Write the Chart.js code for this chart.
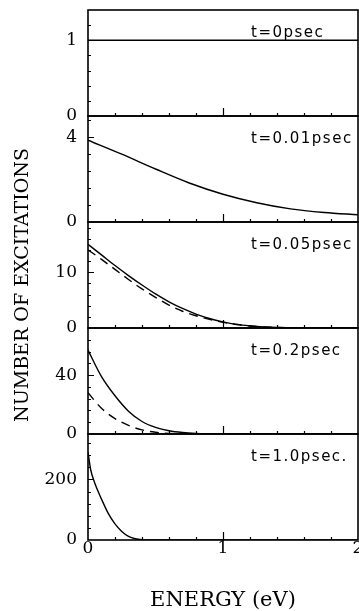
<!DOCTYPE html>
<html>
<head>
<meta charset="utf-8">
<script src="https://cdn.jsdelivr.net/npm/chart.js@4.4.1/dist/chart.umd.min.js"></script>
<style>
  html, body { margin: 0; padding: 0; background: #fff; }
  canvas { display: block; }
</style>
</head>
<body>
<canvas id="excitationsChart" width="359" height="611"></canvas>
<script>
// energy grids (eV) and number of excitations
const energyT0 = [0, 2];
const excT0 = [1, 1];

const energyT001 = [0, 0.25, 0.5, 0.75, 1.0, 1.25, 1.5, 1.75, 2.0];
const excT001 = [3.86, 3.2, 2.5, 1.84, 1.31, 0.91, 0.62, 0.45, 0.34];

const energyT005 = [0, 0.1, 0.2, 0.3, 0.4, 0.5, 0.6, 0.7, 0.8, 0.9, 1.0, 1.1, 1.2, 1.3, 1.4, 1.5, 1.6, 2.0];
const excT005 = [15.0, 13.1, 11.2, 9.4, 7.7, 6.1, 4.7, 3.5, 2.5, 1.7, 1.1, 0.65, 0.38, 0.2, 0.1, 0.05, 0.02, 0];
const excT005Dashed = [14.0, 12.3, 10.5, 8.7, 7.0, 5.5, 4.1, 3.0, 2.2, 1.55, 1.0, 0.62, 0.36, 0.2, 0.1, 0.05, 0.02, 0];

const energyT02 = [0, 0.1, 0.2, 0.3, 0.4, 0.5, 0.6, 0.7, 0.8, 0.9, 1.0, 2.0];
const excT02 = [57, 39, 26, 15.5, 8.5, 4.5, 2.2, 1.0, 0.4, 0.15, 0, 0];
const excT02Dashed = [28, 17.5, 10.5, 5.8, 2.8, 1.2, 0.4, 0.1, 0, 0, 0, 0];

const energyT1 = [0, 0.02, 0.05, 0.1, 0.15, 0.2, 0.25, 0.3, 0.35, 0.4, 0.5, 2.0];
const excT1 = [290, 232, 188, 135, 88, 53, 28, 12, 4, 1, 0, 0];

const panelLabels = ["t=0psec", "t=0.01psec", "t=0.05psec", "t=0.2psec", "t=1.0psec."];
const panelMax = [1.4, 5, 19, 72, 350];
const panelStep = [0.2, 0.8, 2, 8, 40];
const panelMajors = [[0, 1], [0, 4], [0, 10], [0, 40], [0, 200]];
const xMajors = [0, 1, 2];

const pts = (xs, ys) => xs.map((x, i) => ({ x: x, y: ys[i] }));
// tick values can carry float noise (1.4 / 7 steps), so match loosely
const findMajor = (list, v) => list.find((m) => Math.abs(m - v) < 1e-6);

function line(xs, ys, axis, dashed) {
  return {
    data: pts(xs, ys),
    yAxisID: axis,
    borderColor: "#000",
    borderWidth: 1.4,
    borderDash: dashed ? [9, 6] : [],
    pointRadius: 0,
    showLine: true,
    cubicInterpolationMode: "monotone",
  };
}

function panelAxis(i) {
  return {
    type: "linear",
    position: "left",
    stack: "panels",
    stackWeight: 1,
    bounds: "data",
    min: 0,
    max: panelMax[i],
    grid: { display: false, drawTicks: false },
    border: { display: false },
    ticks: {
      stepSize: panelStep[i],
      includeBounds: false,
      autoSkip: false,
      padding: 11,
      color: "#000",
      font: { family: "DejaVu Serif", size: 17, lineHeight: 1 },
      callback: (v) => {
        const m = findMajor(panelMajors[i], v);
        return m === undefined ? "" : String(m);
      },
    },
    afterFit: (s) => {
      s.width = 88;
      s.paddingTop = 0;
      s.paddingBottom = 0;
    },
  };
}

// frames, inward tick marks and panel captions
const framePlugin = {
  id: "frames",
  afterDatasetsDraw(chart) {
    const ctx = chart.ctx;
    const xs = chart.scales.x;
    const left = chart.chartArea.left;
    const right = chart.chartArea.right;
    ctx.save();
    ctx.strokeStyle = "#000";
    ctx.fillStyle = "#000";
    for (let i = 0; i < 5; i++) {
      const ys = chart.scales["y" + i];
      ctx.lineWidth = 1.6;
      ctx.strokeRect(left, ys.top, right - left, ys.bottom - ys.top);
      ctx.lineWidth = 1.2;
      ctx.beginPath();
      ys.ticks.forEach((t) => {
        if (t.value <= 1e-9 || t.value >= ys.max - 1e-9) return;
        const y = Math.round(ys.getPixelForValue(t.value)) + 0.5;
        const len = findMajor(panelMajors[i], t.value) !== undefined ? 6 : 3;
        ctx.moveTo(left, y);
        ctx.lineTo(left + len, y);
      });
      xs.ticks.forEach((t) => {
        if (t.value <= 1e-9 || t.value >= xs.max - 1e-9) return;
        const x = Math.round(xs.getPixelForValue(t.value)) + 0.5;
        const len = findMajor(xMajors, t.value) !== undefined ? 8 : 3;
        ctx.moveTo(x, ys.bottom);
        ctx.lineTo(x, ys.bottom - len);
      });
      ctx.stroke();

      ctx.font = '15px "DejaVu Sans"';
      ctx.letterSpacing = "1.5px";
      ctx.textBaseline = "middle";
      ctx.textAlign = "left";
      ctx.fillText(panelLabels[i], 251, ys.top + 23);
    }
    ctx.letterSpacing = "0px";
    ctx.font = '19px "DejaVu Serif"';
    ctx.textAlign = "center";
    ctx.textBaseline = "middle";
    ctx.translate(23, 285);
    ctx.rotate(-Math.PI / 2);
    ctx.fillText("NUMBER OF EXCITATIONS", 0, 0);
    ctx.restore();
  },
};

const ctx = document.getElementById("excitationsChart");

const scales = {
  x: {
    type: "linear",
    position: "bottom",
    bounds: "data",
    min: 0,
    max: 2,
    grid: { display: false, drawTicks: false },
    border: { display: false },
    ticks: {
      stepSize: 0.2,
      autoSkip: false,
      maxRotation: 0,
      padding: 0,
      color: "#000",
      font: { family: "DejaVu Serif", size: 17, lineHeight: 1 },
      callback: (v) => {
        const m = findMajor(xMajors, v);
        return m === undefined ? "" : String(m);
      },
    },
    title: {
      display: true,
      text: "ENERGY (eV)",
      color: "#000",
      font: { family: "DejaVu Serif", size: 21, lineHeight: 1 },
      padding: { top: 0, bottom: 0 },
    },
    afterFit: (s) => {
      s.height = 71;
      s.paddingLeft = 0;
      s.paddingRight = 0;
    },
  },
};
// stacked axes are laid out bottom-up, so the last panel goes in first
for (let i = 4; i >= 0; i--) scales["y" + i] = panelAxis(i);

const excitationsChart = new Chart(ctx, {
  type: "scatter",
  data: {
    datasets: [
      line(energyT0, excT0, "y0"),
      line(energyT001, excT001, "y1"),
      line(energyT005, excT005, "y2"),
      line(energyT005, excT005Dashed, "y2", true),
      line(energyT02, excT02, "y3"),
      line(energyT02, excT02Dashed, "y3", true),
      line(energyT1, excT1, "y4"),
    ],
  },
  options: {
    responsive: false,
    animation: false,
    devicePixelRatio: 1,
    layout: { padding: { top: 10, right: 1, left: 0, bottom: 0 } },
    plugins: {
      legend: { display: false },
      tooltip: { enabled: false },
    },
    scales: scales,
  },
  plugins: [framePlugin],
});
</script>
</body>
</html>
